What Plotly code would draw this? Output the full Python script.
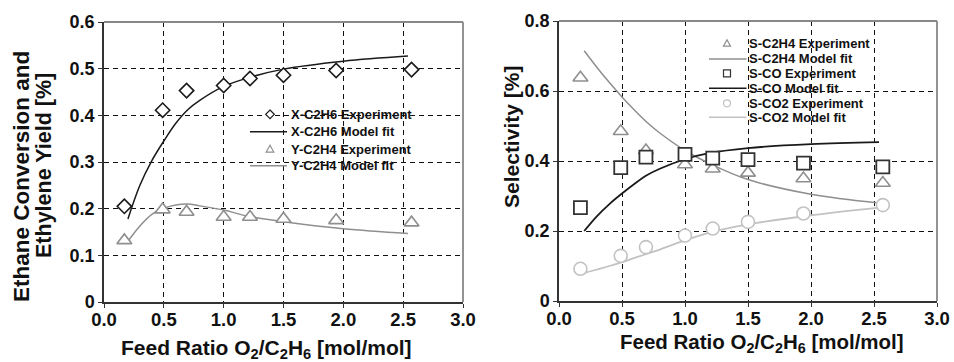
import plotly.graph_objects as go

W, H = 954, 362

# ---------------- data ----------------
exp_x = [0.17, 0.49, 0.69, 1.0, 1.22, 1.5, 1.94, 2.57]
x_c2h6_exp = [0.205, 0.411, 0.453, 0.464, 0.479, 0.486, 0.496, 0.498]
y_c2h4_exp = [0.132, 0.198, 0.193, 0.182, 0.182, 0.178, 0.175, 0.170]

fit_x = [0.2, 0.3, 0.4, 0.5, 0.6, 0.7, 0.8, 1.0, 1.2, 1.5, 2.0, 2.54]
x_c2h6_fit = [0.178, 0.25, 0.303, 0.345, 0.383, 0.412, 0.432, 0.462, 0.48, 0.499, 0.516, 0.527]
y_c2h4_fit = [0.13, 0.163, 0.188, 0.201, 0.208, 0.21, 0.206, 0.197, 0.184, 0.172, 0.157, 0.147]

s_c2h4_exp = [0.638, 0.485, 0.43, 0.39, 0.378, 0.366, 0.35, 0.337]
s_co_exp = [0.267, 0.381, 0.411, 0.419, 0.408, 0.404, 0.394, 0.383]
s_co2_exp = [0.092, 0.129, 0.154, 0.187, 0.207, 0.226, 0.25, 0.274]
s_c2h4_fit = [0.715, 0.668, 0.624, 0.583, 0.545, 0.51, 0.48, 0.43, 0.392, 0.347, 0.305, 0.28]
s_co_fit = [0.2, 0.242, 0.277, 0.307, 0.335, 0.36, 0.378, 0.405, 0.423, 0.437, 0.448, 0.454]
s_co2_fit = [0.08, 0.09, 0.1, 0.111, 0.123, 0.135, 0.147, 0.173, 0.196, 0.219, 0.245, 0.267]

x_ticks = [0, 0.5, 1.0, 1.5, 2.0, 2.5, 3.0]
yl_ticks = [0, 0.1, 0.2, 0.3, 0.4, 0.5, 0.6]
yl_text = ["0", "0.1", "0.2", "0.3", "0.4", "0.5", "0.6"]
yr_ticks = [0, 0.2, 0.4, 0.6, 0.8]
yr_text = ["0", "0.2", "0.4", "0.6", "0.8"]

left_labels = ["X-C2H6 Experiment", "X-C2H6 Model fit", "Y-C2H4 Experiment", "Y-C2H4 Model fit"]
right_labels = ["S-C2H4 Experiment", "S-C2H4 Model fit", "S-CO Experiment",
                "S-CO Model fit", "S-CO2 Experiment", "S-CO2 Model fit"]

# ---------------- styles ----------------
BLACK = "#1a1a1a"
GREY = "#8f8f8f"
LGREY = "#c2c2c2"
FONT = "Liberation Sans, Arial, sans-serif"

fig = go.Figure()

def px_x(v):
    return v / W

def px_y(v):
    return 1 - v / H

# left panel traces
fig.add_trace(go.Scatter(x=fit_x, y=x_c2h6_fit, mode="lines", line=dict(color=BLACK, width=1.5, shape="spline"),
                         xaxis="x", yaxis="y", showlegend=False))
fig.add_trace(go.Scatter(x=fit_x, y=y_c2h4_fit, mode="lines", line=dict(color=GREY, width=1.5, shape="spline"),
                         xaxis="x", yaxis="y", showlegend=False))
fig.add_trace(go.Scatter(x=exp_x, y=x_c2h6_exp, mode="markers",
                         marker=dict(symbol="diamond", size=11, color="white", line=dict(color=BLACK, width=1.6)),
                         xaxis="x", yaxis="y", showlegend=False))
fig.add_trace(go.Scatter(x=exp_x, y=y_c2h4_exp, mode="markers",
                         marker=dict(symbol="triangle-up", size=13, color="white", line=dict(color=GREY, width=1.6)),
                         xaxis="x", yaxis="y", showlegend=False))

# right panel traces
fig.add_trace(go.Scatter(x=fit_x, y=s_c2h4_fit, mode="lines", line=dict(color=GREY, width=1.5, shape="spline"),
                         xaxis="x2", yaxis="y2", showlegend=False))
fig.add_trace(go.Scatter(x=fit_x, y=s_co2_fit, mode="lines", line=dict(color=LGREY, width=1.8, shape="spline"),
                         xaxis="x2", yaxis="y2", showlegend=False))
fig.add_trace(go.Scatter(x=fit_x, y=s_co_fit, mode="lines", line=dict(color=BLACK, width=1.8, shape="spline"),
                         xaxis="x2", yaxis="y2", showlegend=False))
fig.add_trace(go.Scatter(x=exp_x, y=s_c2h4_exp, mode="markers",
                         marker=dict(symbol="triangle-up", size=13, color="white", line=dict(color=GREY, width=1.6)),
                         xaxis="x2", yaxis="y2", showlegend=False))
fig.add_trace(go.Scatter(x=exp_x, y=s_co_exp, mode="markers",
                         marker=dict(symbol="square", size=13, color="white", line=dict(color="#333333", width=1.8)),
                         xaxis="x2", yaxis="y2", showlegend=False))
fig.add_trace(go.Scatter(x=exp_x, y=s_co2_exp, mode="markers",
                         marker=dict(symbol="circle", size=13, color="white", line=dict(color=LGREY, width=1.6)),
                         xaxis="x2", yaxis="y2", showlegend=False))

axis_common = dict(
    showline=True, linecolor="#333333", linewidth=1.5,
    ticks="outside", ticklen=4, tickcolor="#333333", tickwidth=1.2,
    showgrid=True, gridcolor="#111111", gridwidth=1.2, griddash="5px,4px",
    zeroline=False, mirror=False, automargin=False,
)

fig.update_layout(
    template="none",
    width=W, height=H,
    margin=dict(l=0, r=0, t=0, b=0, pad=0),
    paper_bgcolor="white", plot_bgcolor="white",
    showlegend=False,
    font=dict(family=FONT, color="#111111"),
    xaxis=dict(domain=[104 / W, 463 / W], range=[0, 3], tickvals=x_ticks, tickformat=".1f",
               tickfont=dict(size=18.5, weight="bold", family=FONT), ticklabelstandoff=-4, anchor="y", **axis_common),
    yaxis=dict(domain=[1 - 302 / H, 1 - 22 / H], range=[0, 0.6], tickvals=yl_ticks, ticktext=yl_text,
               tickfont=dict(size=18, weight="bold", family=FONT), anchor="x", **axis_common),
    xaxis2=dict(domain=[559 / W, 937 / W], range=[0, 3], tickvals=x_ticks, tickformat=".1f",
                tickfont=dict(size=18.5, weight="bold", family=FONT), ticklabelstandoff=-4, anchor="y2", **axis_common),
    yaxis2=dict(domain=[1 - 301 / H, 1 - 21 / H], range=[0, 0.8], tickvals=yr_ticks, ticktext=yr_text,
                tickfont=dict(size=18, weight="bold", family=FONT), anchor="x2", **axis_common),
)

shapes = []
# grey top/right frame
for xr, yr in (("x domain", "y domain"), ("x2 domain", "y2 domain")):
    shapes.append(dict(type="line", xref=xr, yref=yr, x0=0, x1=1, y0=1, y1=1,
                       line=dict(color="#888888", width=1.8), layer="above"))
    shapes.append(dict(type="line", xref=xr, yref=yr, x0=1, x1=1, y0=0, y1=1,
                       line=dict(color="#888888", width=1.8), layer="above"))

# legend backgrounds
shapes.append(dict(type="rect", xref="paper", yref="paper", x0=px_x(247), x1=px_x(410), y0=px_y(174), y1=px_y(105),
                   fillcolor="white", line=dict(width=0), layer="between"))
shapes.append(dict(type="rect", xref="paper", yref="paper", x0=px_x(705), x1=px_x(878), y0=px_y(126), y1=px_y(34),
                   fillcolor="white", line=dict(width=0), layer="between"))

annotations = []

def text_ann(txt, x, y, size, angle=0, anchor="center", color="#111111"):
    annotations.append(dict(text="<b>%s</b>" % txt, xref="paper", yref="paper",
                            x=px_x(x), y=px_y(y), xanchor=anchor, yanchor="middle",
                            textangle=angle, showarrow=False, borderpad=0,
                            font=dict(size=size, color=color, family=FONT)))

def legend_symbol(kind, cx, cy, col, r=3.8):
    """Small legend sample symbol drawn as a path in paper coordinates."""
    if kind == "diamond":
        pts = [(cx, cy - r - 0.5), (cx + r + 0.5, cy), (cx, cy + r + 0.5), (cx - r - 0.5, cy)]
    elif kind == "triangle":
        pts = [(cx, cy - r), (cx + r, cy + r * 0.8), (cx - r, cy + r * 0.8)]
    elif kind == "square":
        pts = [(cx - r, cy - r), (cx + r, cy - r), (cx + r, cy + r), (cx - r, cy + r)]
    else:
        shapes.append(dict(type="circle", xref="paper", yref="paper",
                           x0=px_x(cx - r), x1=px_x(cx + r), y0=px_y(cy + r), y1=px_y(cy - r),
                           line=dict(color=col, width=1.2), fillcolor="white", layer="above"))
        return
    path = "M " + " L ".join("%.5f,%.5f" % (px_x(a), px_y(b)) for a, b in pts) + " Z"
    shapes.append(dict(type="path", xref="paper", yref="paper", path=path,
                       line=dict(color=col, width=1.2), fillcolor="white", layer="above"))

# axis titles
text_ann("Ethane Conversion and", 21, 177, 22.5, angle=-90)
text_ann("Ethylene Yield [%]", 44, 166, 21.5, angle=-90)
text_ann("Selectivity [%]", 511, 137, 21, angle=-90)
text_ann("Feed Ratio O<sub>2</sub>/C<sub>2</sub>H<sub>6</sub> [mol/mol]", 266, 348.5, 21)
text_ann("Feed Ratio O<sub>2</sub>/C<sub>2</sub>H<sub>6</sub> [mol/mol]", 762, 343, 20.5)

# left legend
left_rows = [114.3, 131.7, 149, 165.7]
left_kind = [("diamond", BLACK), ("line", BLACK), ("triangle", GREY), ("line", GREY)]
for lab, row, (kind, col) in zip(left_labels, left_rows, left_kind):
    text_ann(lab, 290, row, 13, anchor="left")
    if kind == "line":
        shapes.append(dict(type="line", xref="paper", yref="paper", x0=px_x(250), x1=px_x(287),
                           y0=px_y(row), y1=px_y(row), line=dict(color=col, width=1.5), layer="above"))
    else:
        legend_symbol(kind, 270, row, col)

# right legend
right_rows = [43.3, 59, 73.3, 88.3, 103.3, 117.3]
right_kind = [("triangle", GREY), ("line", GREY), ("square", "#333333"),
              ("line", BLACK), ("circle", LGREY), ("line", LGREY)]
for lab, row, (kind, col) in zip(right_labels, right_rows, right_kind):
    text_ann(lab, 748, row, 13, anchor="left")
    if kind == "line":
        shapes.append(dict(type="line", xref="paper", yref="paper", x0=px_x(709), x1=px_x(746.5),
                           y0=px_y(row), y1=px_y(row), line=dict(color=col, width=1.6), layer="above"))
    else:
        legend_symbol(kind, 727, row, col, r=3.5)

fig.update_layout(shapes=shapes, annotations=annotations)

fig.write_html("out.html", config={"displayModeBar": False},
               post_script="document.body.style.margin='0';document.body.style.overflow='hidden';")
